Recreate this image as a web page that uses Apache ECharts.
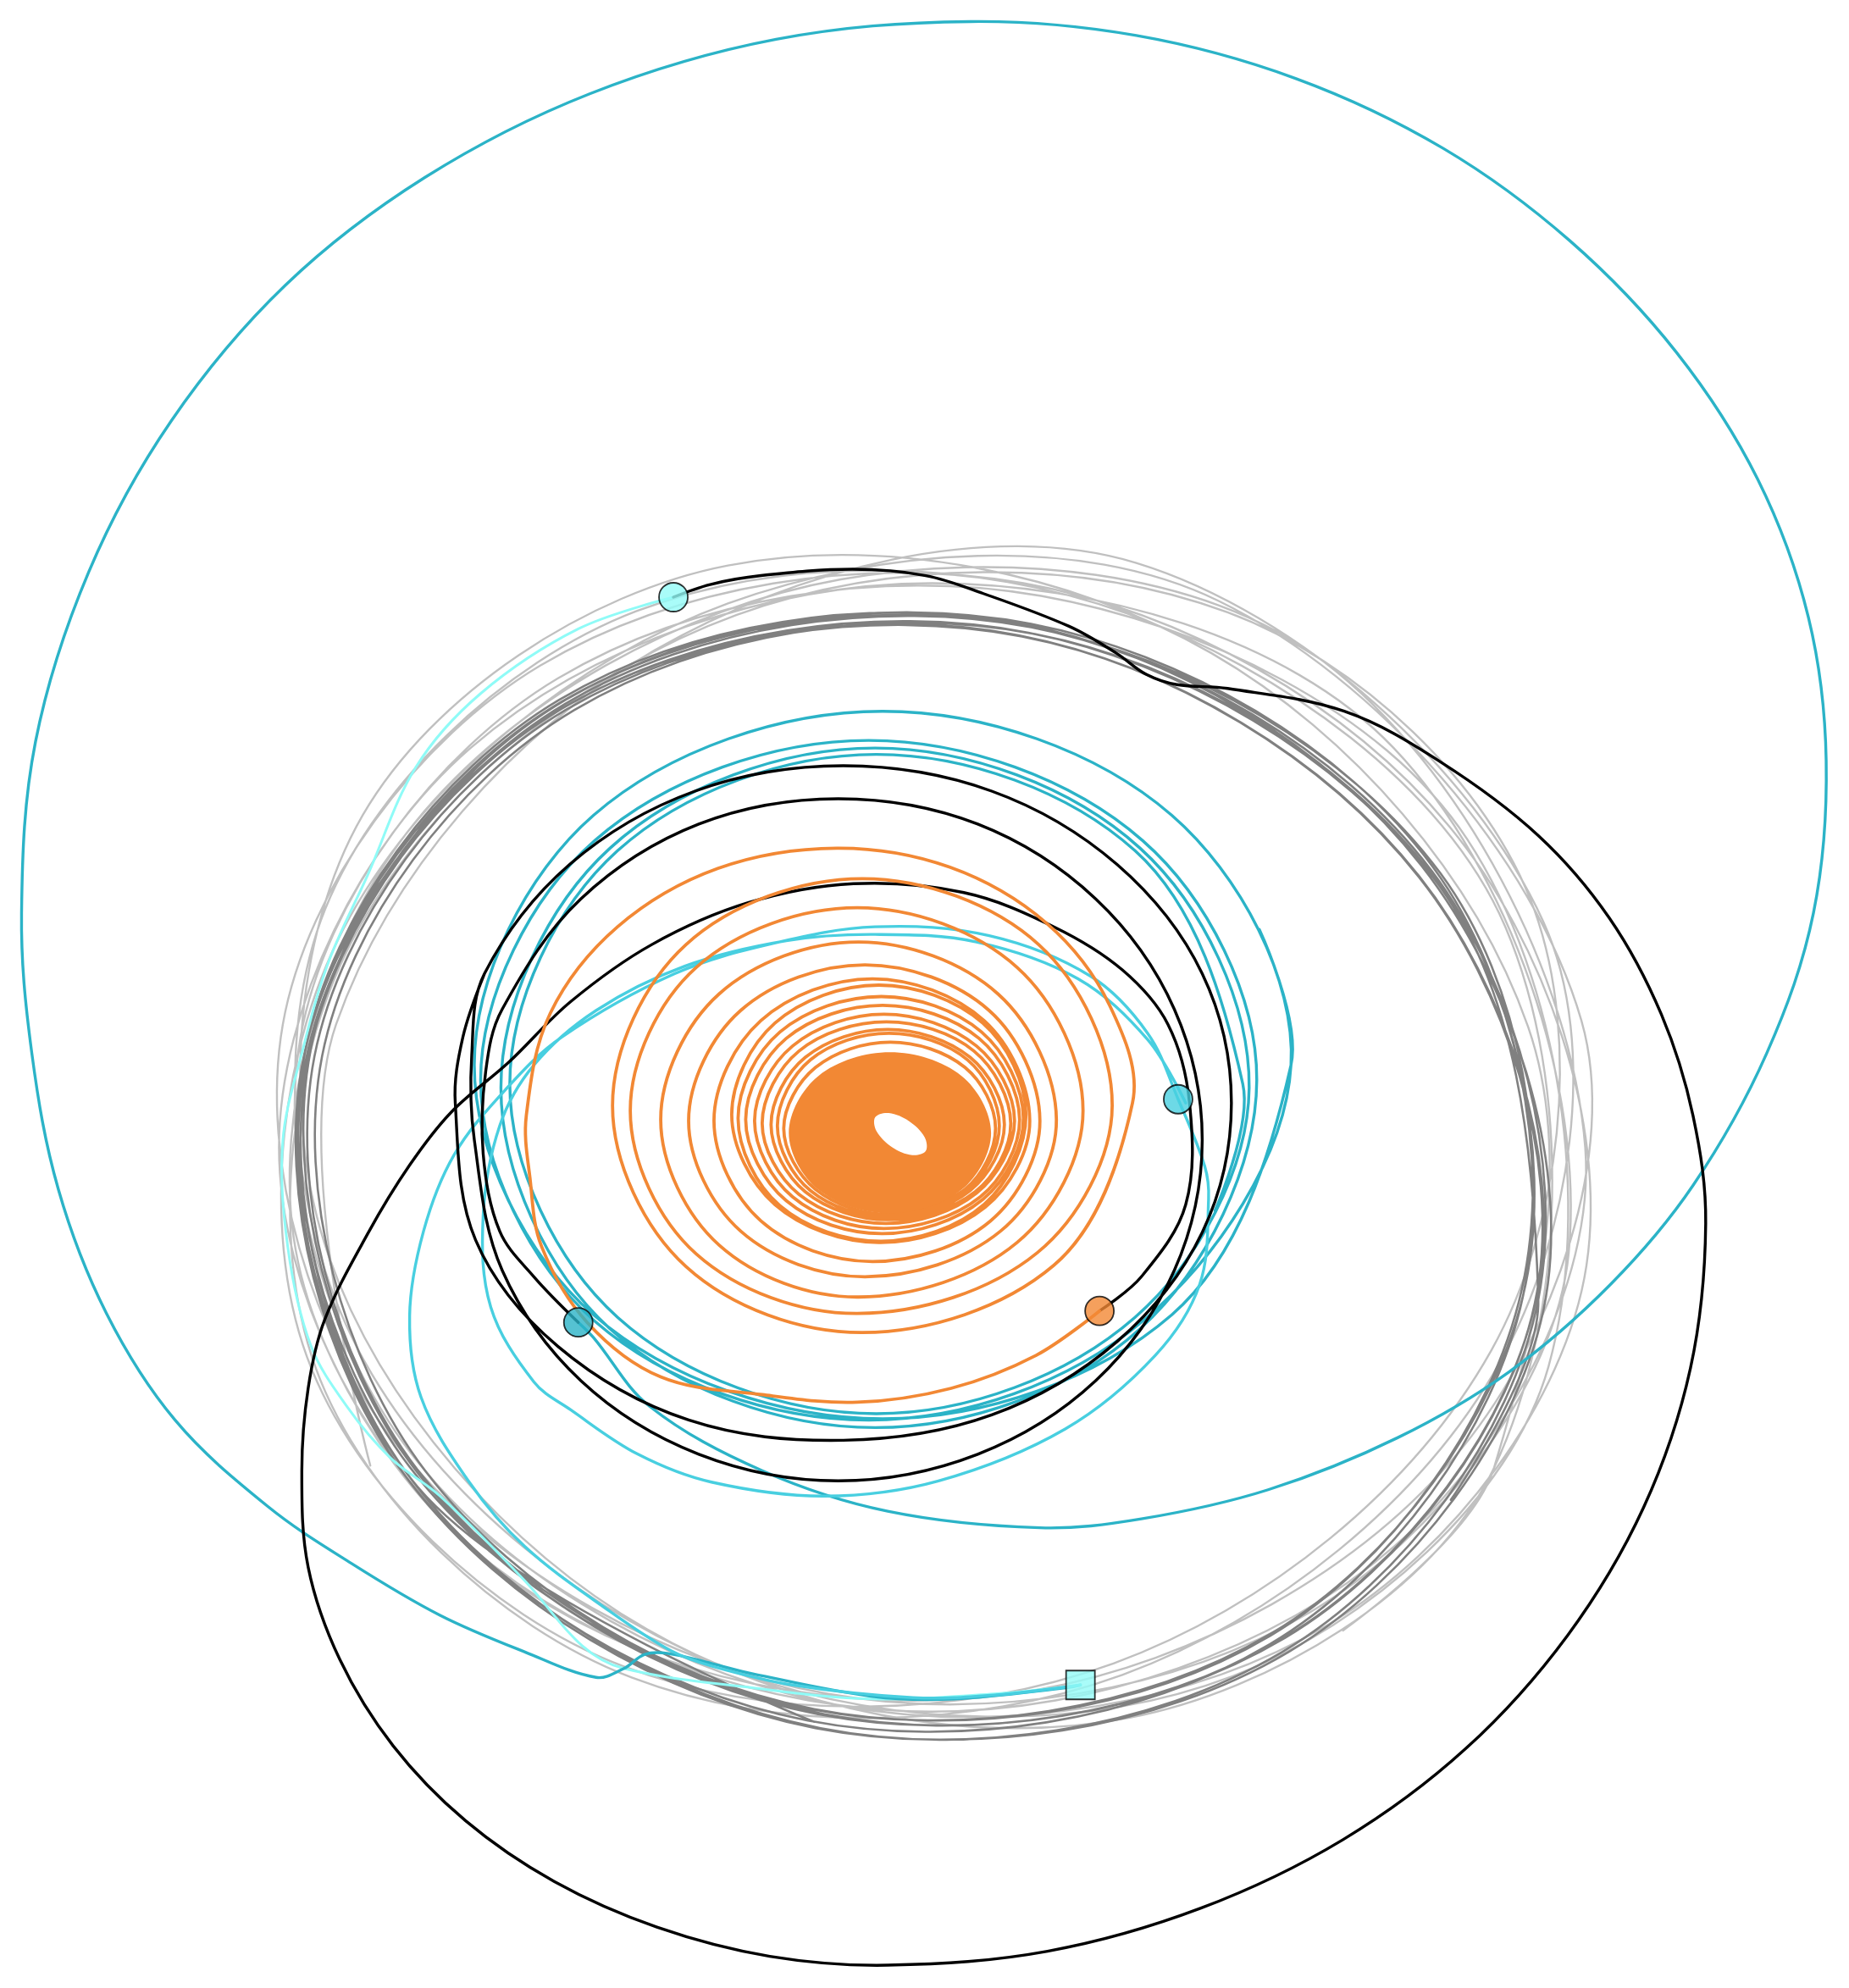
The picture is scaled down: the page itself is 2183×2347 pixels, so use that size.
<!DOCTYPE html>
<html><head><meta charset="utf-8">
<script src="https://cdn.jsdelivr.net/npm/echarts@6/dist/echarts.min.js"></script>
<style>html,body{margin:0;padding:0;background:#fff}#c{width:2183px;height:2347px}</style>
</head><body><div id="c"></div><script>
// All coordinates are in plot units (x 0..1458, y 0..1568, y downward).
const lightGrayOrbits = [
  [[292,1156],[265,808],[516,513],[896,444]],
  [[1217,727],[1183,1074],[885,1321],[498,1323],[249,1079],[283,732],[581,485],[968,483]],
  [[1210,718],[1176,1065],[878,1312],[491,1314],[242,1070],[276,723],[574,476],[961,474]],
  [[1247,805],[1153,1142],[817,1333],[436,1268],[233,985],[327,649],[663,457],[1044,522]],
  [[1250,905],[1099,1220],[735,1350],[371,1220],[220,905],[371,590],[735,460],[1099,590]],
  [[1237,988],[1034,1271],[653,1336],[317,1145],[223,808],[426,525],[807,460],[1143,652]],
  [[1251,998],[1048,1281],[667,1346],[331,1155],[237,818],[440,535],[821,470],[1157,662]],
  [[1221,1078],[972,1322],[585,1320],[287,1073],[253,726],[502,482],[889,484],[1187,731]],
  [[1178,1158],[890,1355],[510,1285],[259,990],[286,643],[574,446],[955,515],[1205,810],[1178,1158],[1059,1286]]
];
const darkGrayOrbits = [
  [[642,1358],[323,1165],[240,832],[442,554],[810,494],[1129,687]],
  [[1203,1013],[1003,1288],[639,1348],[323,1157],[241,827],[441,552],[805,492],[1121,683]],
  [[1219,1023],[1016,1303],[647,1363],[326,1169],[243,835],[446,555],[815,495],[1136,689]],
  [[1200,1017],[1002,1290],[642,1348],[329,1159],[248,833],[446,560],[806,502],[1119,691]],
  [[1213,1016],[1012,1292],[645,1352],[328,1160],[245,828],[446,552],[813,492],[1130,684]],
  [[1201,1022],[1001,1297],[637,1357],[321,1166],[239,836],[439,561],[803,501],[1119,692]],
  [[1212,1019],[1013,1292],[650,1352],[336,1161],[254,833],[453,560],[816,500],[1130,691]],
  [[1213,1025],[1011,1303],[643,1363],[324,1170],[241,837],[443,559],[811,499],[1130,692],[1213,1025],[1144,1183]]
];
const paleCyanPath = [[531,471],[456,496],[379,547],[328,605],[290,690],[259,759],[239,827],[223,900],[227,984],[245,1061],[274,1110],[308,1150],[347,1180],[414,1247],[459,1298],[492,1316],[592,1331],[688,1340],[784,1336],[852,1329]];
const tealLoops = [
  [[958,955],[980,855],[895,671],[691,595],[487,671],[402,855],[487,1039],[691,1115],[895,1039]],
  [[985,858],[899,669],[690,590],[481,669],[395,858],[481,1048],[690,1126],[899,1048]],
  [[991,852],[901,663],[685,584],[469,663],[379,852],[469,1042],[685,1120],[901,1042]],
  [[1018,840],[924,643],[696,561],[468,643],[374,840],[468,1037],[696,1119],[924,1037],[1018,840],[993,733]]
];
const tealExcursion = [[456,1043],[468,1055],[512,1109],[601,1160],[700,1192],[820,1205],[900,1198],[1000,1175],[1102,1134],[1190,1082],[1270,1013],[1335,935],[1393,831],[1430,720],[1440,600],[1426,487],[1386,378],[1322,278],[1238,190],[1138,117],[1022,62],[896,28],[765,17],[612,31],[465,74],[335,140],[225,225],[135,332],[70,451],[28,585],[17,720],[25,830],[46,938],[84,1036],[138,1120],[211,1188],[277,1233],[347,1274],[414,1303],[470,1323],[492,1316],[508,1305],[526,1304],[561,1312],[593,1320],[688,1338],[752,1340],[842,1331],[852,1329]];
const lightCyanPath = [[852,1329],[784,1337],[720,1339],[625,1329],[561,1314],[529,1302],[481,1271],[414,1220],[370,1169],[332,1102],[323,1038],[334,971],[358,911],[399,859],[443,818],[532,768],[610,744],[690,731],[780,738],[860,770],[905,815],[929,867],[950,920],[953,946],[946,1013],[911,1069],[840,1127],[740,1168],[650,1180],[561,1169],[503,1147],[450,1112],[421,1090],[387,1031],[381,959],[394,888],[421,840],[470,797],[540,762],[620,742],[690,737],[770,743],[850,772],[905,820],[935,870]];
const blackArc = [[531,471],[560,461],[600,454],[672,449],[730,454],[775,468],[843,494],[880,515],[904,532],[928,540],[968,543],[1060,561],[1136,601],[1213,659],[1269,724],[1310,800],[1335,880],[1345,965],[1333,1079],[1296,1189],[1236,1290],[1156,1379],[1059,1451],[947,1505],[826,1539],[700,1550],[607,1543],[518,1520],[437,1484],[367,1436],[310,1377],[268,1309],[243,1236],[238,1160],[243,1095],[256,1041],[290,973],[323,919],[356,877],[401,838],[450,790],[514,745],[590,712],[673,697],[760,704],[831,731],[885,765],[921,808],[938,870],[935,950],[900,1007],[867,1034]];
const blackLoops = [[456,1043],[421,1007],[394,971],[381,910],[383,845],[396,796],[458,709],[551,650],[661,630],[771,650],[864,709],[926,796],[948,899],[926,1002],[864,1089],[771,1147],[661,1168],[551,1147],[458,1089],[396,1002],[374,899],[372,832],[382,768],[449,682],[548,624],[665,604],[782,624],[881,682],[948,768],[971,870],[948,972],[881,1058],[782,1116],[665,1136],[543,1120],[440,1062],[375,978],[359,870],[365,818],[382,768]];
const orangeSpiral = [
  [867,1034],[817,1069],[750,1095],[676,1106],[601,1100],[521,1086],[463,1043],[427,983],[418,930],[415,880],[434,799],[487,731],[566,685],[660,669],[749,684],[825,728],[875,793],[893,870],
  [831,998],[680,1051],[541,999],[483,872],[541,745],[680,693],[819,745],[877,872],
  [818,988],[676,1036],[549,989],[497,876],[549,763],[676,716],[802,763],[854,876],
  [802,980],[677,1023],[567,982],[521,883],[567,784],[677,743],[787,784],[833,883],
  [789,971],[682,1007],[584,971],[543,884],[584,797],[682,761],[780,797],[820,884],
  [781,963],[688,995],[600,963],[563,884],[600,805],[688,772],[776,805],[812,884],
  [777,952],[693,980],[611,950],[577,879],[611,807],[693,777],[775,807],[809,879],
  [776,950],[695,979],[615,951],[582,882],[615,814],[695,786],[774,814],[807,882],
  [775,946],[696,973],[620,947],[588,883],[620,819],[696,793],[772,819],[804,883],
  [773,944],[697,969],[625,944],[595,884],[625,825],[697,800],[770,825],[800,884],
  [770,941],[699,965],[630,942],[601,886],[630,829],[699,806],[768,829],[797,886],
  [769,940],[700,962],[635,940],[608,887],[635,834],[700,812],[765,834],[792,887],
  [765,939],[701,960],[639,939],[613,888],[639,836],[701,815],[763,836],[788,888],
  [763,938],[702,958],[643,938],[618,890],[643,842],[702,822],[761,842],[785,890],[761,938],[702,958]
];
const orangeCore = [[781.5,893.5],[758.2,938.4],[701.8,957],[645.4,938.4],[622,893.5],[645.4,848.6],[701.8,830],[758.2,848.6]];
const orangeHole = [[730,907.8],[719.4,911.1],[703.3,904.7],[691.2,892.3],[690.1,881.2],[700.8,877.9],[716.9,884.3],[729,896.7]];
const circleMarkers = [[867,1034],[456,1043],[929,867],[531,471]];
const circleColors = ['#f28834','#2bb3c7','#48cfe0','#93fbf8'];
const squareMarkers = [[852,1329]];

const ORANGE = '#f28834', TEAL = '#2bb3c7', LCYAN = '#48cfe0', PALE = '#8ffbf7';
const flat = a => [].concat(...a);
// A trajectory drawn as one smoothed polyline through the points, mapped by the chart's axes.
function path(points, color, width) {
  return {type:'custom', data: points, encode:{x:0,y:1}, clip:false, silent:true,
    renderItem: (params, api) => {
      if (params.dataIndex !== 0) return null;
      return {type:'polyline', shape:{points: points.map(p => api.coord(p)), smooth:0.35},
        style:{stroke:color, lineWidth:width, fill:null, lineJoin:'round', lineCap:'round'}};
    }};
}
function poly(points, fill) {
  return {type:'custom', data: points, encode:{x:0,y:1}, clip:false, silent:true,
    renderItem: (params, api) => {
      if (params.dataIndex !== 0) return null;
      return {type:'polygon', shape:{points: points.map(p => api.coord(p)), smooth:0.35}, style:{fill}};
    }};
}
const chart = echarts.init(document.getElementById('c'), null, {renderer:'canvas'});
chart.setOption({
  animation:false,
  backgroundColor:'#ffffff',
  grid:{left:0,right:0,top:0,bottom:0},
  xAxis:{type:'value',min:0,max:1458,show:false},
  yAxis:{type:'value',min:0,max:1568,inverse:true,show:false},
  series:[
    path(flat(lightGrayOrbits), '#c0c0c0', 2.4),
    path(flat(darkGrayOrbits), '#808080', 2.6),
    path(paleCyanPath, PALE, 3),
    path(flat(tealLoops), TEAL, 3.4),
    path(tealExcursion, TEAL, 3.4),
    path(lightCyanPath, LCYAN, 3.4),
    path(blackLoops, '#000000', 3.4),
    path(blackArc, '#000000', 3.4),
    path(orangeSpiral, ORANGE, 3.8),
    poly(orangeCore, ORANGE),
    poly(orangeHole, '#ffffff'),
    {type:'scatter', silent:true, symbol:'circle', symbolSize:34, clip:false,
      data: circleMarkers.map((p,i) => ({value:p, itemStyle:{color:circleColors[i], borderColor:'#000', borderWidth:1.8}}))},
    {type:'scatter', silent:true, symbol:'rect', symbolSize:34, clip:false,
      data: squareMarkers.map(p => ({value:p, itemStyle:{color:'#93fbf8', borderColor:'#000', borderWidth:1.8}}))}
  ]
});
</script></body></html>
